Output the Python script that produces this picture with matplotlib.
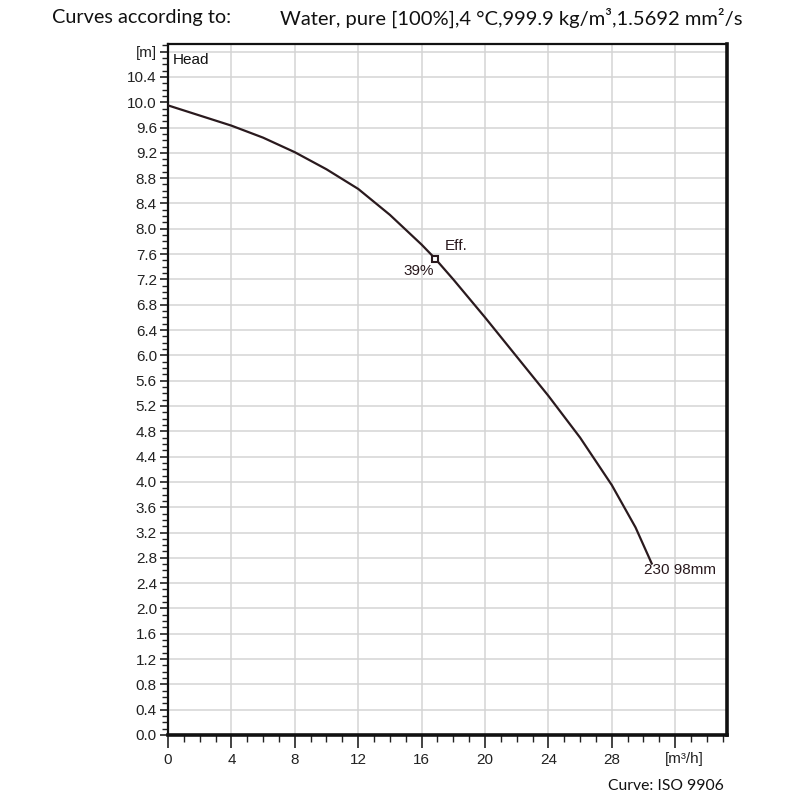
import matplotlib.pyplot as plt
import numpy as np

# head curve
flow = [0, 2, 4, 6, 8, 10, 12, 14, 16, 16.85, 18, 20, 22, 24, 26, 28, 29.5, 30.52]
head = [9.95, 9.79, 9.63, 9.44, 9.21, 8.94, 8.63, 8.22, 7.75, 7.53, 7.20, 6.60,
        5.98, 5.36, 4.70, 3.95, 3.28, 2.71]

eff_q, eff_h = 16.85, 7.53
eff_label = "39%"
curve_label = "230 98mm"

y_ticks = [round(0.4 * i, 1) for i in range(27)]
x_ticks = [0, 4, 8, 12, 16, 20, 24, 28]

fig = plt.figure(figsize=(8, 8), dpi=100)
ax = fig.add_axes([0.21, 0.08125, 0.69875, 0.86375])

tick_font = 'Liberation Sans'
head_font = 'Lato'

ax.set_xlim(0, 35.27)
ax.set_ylim(0, 10.92)

ax.set_xticks(x_ticks + [32])
ax.set_xticklabels([str(v) for v in x_ticks] + [''])
ax.set_xticks(np.arange(0, 36, 1), minor=True)
ax.set_yticks(y_ticks + [10.8])
ax.set_yticklabels(['%.1f' % v for v in y_ticks] + ['[m]'])
ax.set_yticks(np.arange(0, 10.95, 0.1), minor=True)

for lab in ax.get_xticklabels() + ax.get_yticklabels():
    lab.set_fontfamily(tick_font)
    lab.set_fontsize(11)
    lab.set_color('#222222')

ax.tick_params(axis='both', which='major', direction='out', length=6, width=1.2, color='#222222')
ax.tick_params(axis='both', which='minor', direction='out', length=4, width=1.0, color='#222222')
ax.tick_params(axis='x', which='major', length=9, pad=4)
ax.tick_params(axis='x', which='minor', length=5)
ax.tick_params(axis='y', which='major', pad=2)

ax.grid(True, which='major', color='#d4d4d4', linewidth=1.1)
ax.set_axisbelow(True)

for side in ['left', 'top']:
    ax.spines[side].set_linewidth(1.6)
for side in ['right', 'bottom']:
    ax.spines[side].set_linewidth(2.6)
for s in ax.spines.values():
    s.set_color('#111111')

ax.plot(flow, head, color='#2a1a1e', linewidth=1.6, zorder=3)
ax.plot([eff_q], [eff_h], marker='s', markersize=5, markerfacecolor='white',
        markeredgecolor='#2a1a1e', markeredgewidth=1.5, zorder=4)
ax.text(eff_q + 0.6, eff_h + 0.08, 'Eff.', fontfamily=tick_font, fontsize=11,
        color='#2a1a1e', va='bottom', ha='left')
ax.text(eff_q - 0.1, eff_h - 0.08, eff_label, fontfamily=tick_font, fontsize=11,
        color='#2a1a1e', va='top', ha='right')
ax.text(30.05, 2.6, curve_label, fontfamily=tick_font, fontsize=11,
        color='#2a1a1e', va='center', ha='left')
ax.text(0.3, 10.66, 'Head', fontfamily=tick_font, fontsize=11,
        color='#111111', va='center', ha='left')
ax.text(32.6, -0.38, '[m³/h]', fontfamily=tick_font, fontsize=11,
        color='#222222', va='center', ha='center')

fig.text(52 / 800, 1 - 18 / 800, 'Curves according to:', fontfamily=head_font,
         fontsize=14.3, va='center', ha='left', color='#111111')
fig.text(743 / 800, 1 - 18 / 800,
         'Water, pure [100%],4 °C,999.9 kg/m³,1.5692 mm²/s',
         fontfamily=head_font, fontsize=14.5, va='center', ha='right', color='#111111')
fig.text(724 / 800, 1 - 786 / 800, 'Curve: ISO 9906', fontfamily=head_font,
         fontsize=11.3, va='center', ha='right', color='#111111')

fig.savefig('out.png', dpi=100)
